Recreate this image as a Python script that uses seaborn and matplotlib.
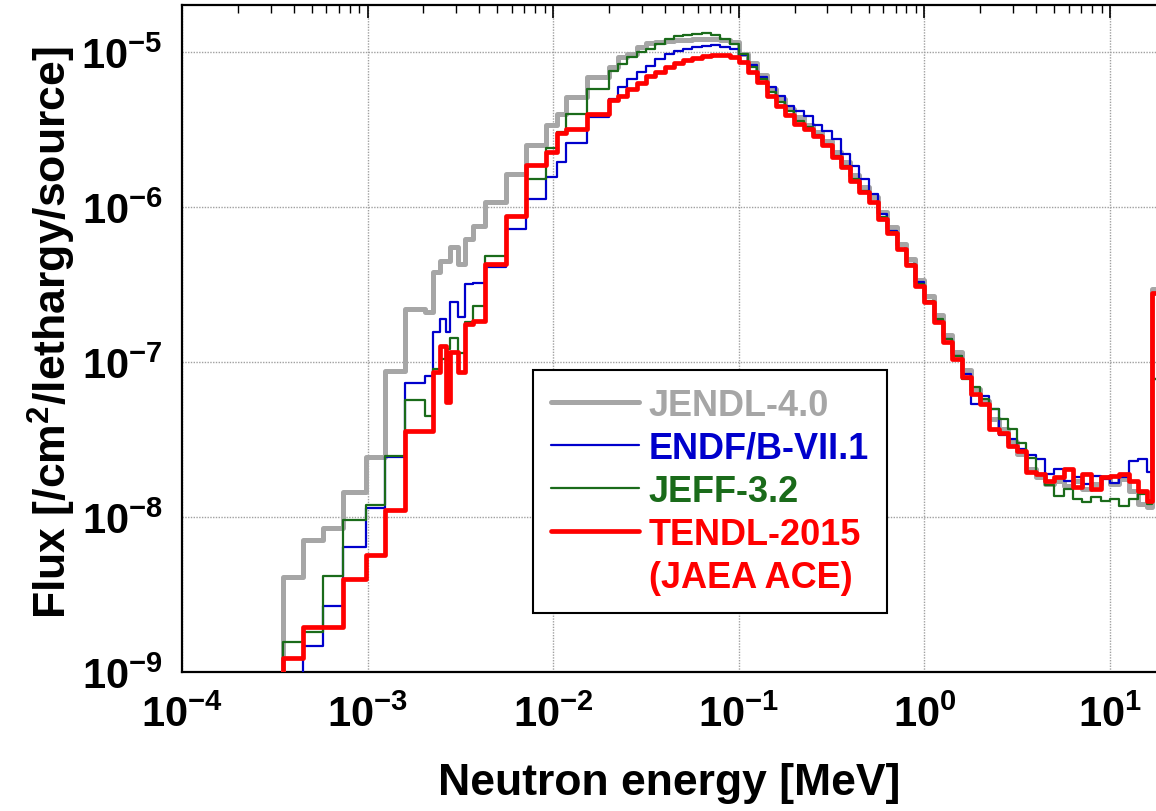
import numpy as np
import pandas as pd
import matplotlib
matplotlib.use("Agg")
import matplotlib.pyplot as plt
from matplotlib.lines import Line2D
from matplotlib import font_manager
import seaborn as sns

# ---------------- data ----------------
# energy group boundaries, log10(E / MeV)
log_edges = [-3.456, -3.348, -3.240, -3.133, -3.009, -2.906, -2.798, -2.691, -2.648, -2.610,
             -2.578, -2.556, -2.513, -2.475, -2.432, -2.367, -2.254, -2.147, -2.039, -1.980,
             -1.931, -1.818,
             -1.70, -1.65, -1.60, -1.55, -1.50, -1.45, -1.40, -1.35, -1.30, -1.25,
             -1.20, -1.15, -1.10, -1.05, -1.00, -0.95, -0.90, -0.85, -0.80, -0.75,
             -0.70, -0.65, -0.60, -0.55, -0.50, -0.45, -0.40, -0.35, -0.30, -0.25,
             -0.20, -0.15, -0.10, -0.05, 0.00, 0.05, 0.10, 0.15, 0.20, 0.25,
             0.30, 0.35, 0.40, 0.45, 0.50, 0.55, 0.60, 0.65, 0.70, 0.75,
             0.80, 0.85, 0.90, 0.95, 1.00, 1.05, 1.10, 1.15, 1.20,
             1.225, 1.30]
# lower end of the energy axis (log10 MeV): no flux tallied below the first group
log_axis_min = -4.0

flux_jendl = [4.1e-9, 7.1e-9, 8.5e-9, 1.45e-8, 2.44e-8, 8.7e-8, 2.2e-7, 2.1e-7, 3.8e-7, 4.5e-7,
              4.5e-7, 5.5e-7, 4.3e-7, 6.2e-7, 7.5e-7, 1.08e-6, 1.63e-6, 2.5e-6, 3.4e-6, 4.0e-6,
              5.1e-6, 6.9e-6,
              8.0e-6, 9.3e-6, 9.7e-6, 1.08e-5, 1.14e-5, 1.16e-5, 1.18e-5, 1.19e-5, 1.19e-5, 1.21e-5,
              1.21e-5, 1.21e-5, 1.19e-5, 1.16e-5, 9.7e-6, 8.5e-6, 7.1e-6, 5.8e-6, 5.0e-6, 4.3e-6,
              3.8e-6, 3.4e-6, 3.05e-6, 2.65e-6, 2.26e-6, 1.95e-6, 1.6e-6, 1.35e-6, 1.16e-6, 9.3e-7,
              7.4e-7, 5.8e-7, 4.6e-7, 3.4e-7, 2.67e-7, 2.0e-7, 1.5e-7, 1.16e-7, 8.9e-8, 6.7e-8,
              5.6e-8, 4.3e-8, 3.7e-8, 3.05e-8, 2.55e-8, 2.04e-8, 1.8e-8, 1.63e-8, 1.7e-8, 1.58e-8,
              1.7e-8, 1.52e-8, 1.63e-8, 1.8e-8, 1.63e-8, 1.76e-8, 1.47e-8, 1.22e-8, 1.16e-8, 2.96e-7]

flux_endf = [5e-10, 1.47e-9, 2.67e-9, 6.4e-9, 1.14e-8, 2.44e-8, 7.3e-8, 8.1e-8, 1.56e-7, 1.89e-7,
             1.56e-7, 2.44e-7, 1.95e-7, 3.2e-7, 3.25e-7, 4.1e-7, 7.2e-7, 1.13e-6, 1.56e-6, 1.95e-6,
             2.6e-6, 3.8e-6,
             5.0e-6, 5.95e-6, 6.7e-6, 7.4e-6, 8.1e-6, 9.0e-6, 9.7e-6, 1.01e-5, 1.045e-5, 1.08e-5,
             1.09e-5, 1.11e-5, 1.08e-5, 1.045e-5, 9.6e-6, 8.25e-6, 6.9e-6, 5.95e-6, 5.2e-6, 4.5e-6,
             4.17e-6, 3.87e-6, 3.4e-6, 3.1e-6, 2.75e-6, 2.2e-6, 1.84e-6, 1.52e-6, 1.21e-6, 9.0e-7,
             7.0e-7, 5.35e-7, 4.3e-7, 3.3e-7, 2.44e-7, 1.83e-7, 1.41e-7, 1.09e-7, 8.35e-8, 5.35e-8,
             6.0e-8, 5.0e-8, 3.4e-8, 3.2e-8, 2.75e-8, 2.5e-8, 2.37e-8, 1.9e-8, 2.04e-8, 1.7e-8,
             1.8e-8, 1.63e-8, 1.85e-8, 1.76e-8, 1.66e-8, 1.8e-8, 2.3e-8, 2.37e-8, 1.95e-8, 7.8e-8]

flux_jeff = [1.56e-9, 1.81e-9, 4.16e-9, 9.6e-9, 1.19e-8, 2.48e-8, 5.7e-8, 4.5e-8, 9.0e-8, 1.05e-7,
             1.21e-7, 1.42e-7, 1.15e-7, 1.8e-7, 2.3e-7, 4.8e-7, 8.75e-7, 1.52e-6, 2.4e-6, 3.05e-6,
             4.0e-6, 5.8e-6,
             7.5e-6, 8.4e-6, 9.3e-6, 1.0e-5, 1.045e-5, 1.13e-5, 1.21e-5, 1.27e-5, 1.29e-5, 1.31e-5,
             1.33e-5, 1.29e-5, 1.21e-5, 1.13e-5, 9.7e-6, 8.0e-6, 6.7e-6, 5.5e-6, 4.75e-6, 4.17e-6,
             3.6e-6, 3.3e-6, 2.9e-6, 2.5e-6, 2.13e-6, 1.84e-6, 1.52e-6, 1.27e-6, 1.08e-6, 8.6e-7,
             6.9e-7, 5.35e-7, 4.3e-7, 3.2e-7, 2.48e-7, 1.89e-7, 1.41e-7, 1.09e-7, 7.8e-8, 6.9e-8,
             5.8e-8, 5.0e-8, 4.3e-8, 3.7e-8, 3.0e-8, 2.4e-8, 1.9e-8, 1.6e-8, 1.37e-8, 1.52e-8,
             1.31e-8, 1.25e-8, 1.35e-8, 1.27e-8, 1.31e-8, 1.18e-8, 1.31e-8, 1.4e-8, 1.22e-8, 7.8e-8]

flux_tendl = [1.23e-9, 1.95e-9, 1.95e-9, 3.98e-9, 5.7e-9, 1.11e-8, 3.6e-8, 3.6e-8, 8.6e-8, 1.27e-7,
              5.5e-8, 1.16e-7, 8.6e-8, 1.75e-7, 1.83e-7, 4.3e-7, 8.75e-7, 1.87e-6, 2.26e-6, 3.0e-6,
              3.2e-6, 4.0e-6,
              4.9e-6, 5.2e-6, 5.8e-6, 6.3e-6, 7.0e-6, 7.4e-6, 8.0e-6, 8.5e-6, 8.85e-6, 9.15e-6,
              9.4e-6, 9.6e-6, 9.6e-6, 9.3e-6, 8.6e-6, 7.4e-6, 6.4e-6, 5.2e-6, 4.5e-6, 3.9e-6,
              3.45e-6, 3.2e-6, 2.85e-6, 2.5e-6, 2.1e-6, 1.81e-6, 1.47e-6, 1.25e-6, 1.08e-6, 8.4e-7,
              6.8e-7, 5.35e-7, 4.2e-7, 3.1e-7, 2.44e-7, 1.81e-7, 1.35e-7, 1.045e-7, 8.0e-8, 6.2e-8,
              5.35e-8, 3.7e-8, 3.5e-8, 2.87e-8, 2.65e-8, 1.95e-8, 1.9e-8, 1.7e-8, 1.8e-8, 2.04e-8,
              1.55e-8, 1.9e-8, 1.52e-8, 1.8e-8, 1.85e-8, 1.9e-8, 1.7e-8, 1.47e-8, 1.27e-8, 2.8e-7]

libraries = ["JENDL-4.0", "ENDF/B-VII.1", "JEFF-3.2", "TENDL-2015 (JAEA ACE)"]
legend_labels = ["JENDL-4.0", "ENDF/B-VII.1", "JEFF-3.2", "TENDL-2015", "(JAEA ACE)"]
x_ticks = [1e-4, 1e-3, 1e-2, 1e-1, 1e0, 1e1]
x_tick_labels = [r"$\mathbf{10^{-4}}$", r"$\mathbf{10^{-3}}$", r"$\mathbf{10^{-2}}$",
                 r"$\mathbf{10^{-1}}$", r"$\mathbf{10^{0}}$", r"$\mathbf{10^{1}}$"]
y_ticks = [1e-9, 1e-8, 1e-7, 1e-6, 1e-5]
y_tick_labels = [r"$\mathbf{10^{-9}}$", r"$\mathbf{10^{-8}}$", r"$\mathbf{10^{-7}}$",
                 r"$\mathbf{10^{-6}}$", r"$\mathbf{10^{-5}}$"]

# ---------------- style ----------------
colors = ["#a6a6a6", "#0000cc", "#1a6b1a", "#ff0000"]
widths = [3.6, 1.6, 1.6, 3.4]


def has_font(name):
    try:
        font_manager.findfont(font_manager.FontProperties(family=name),
                              fallback_to_default=False)
        return True
    except Exception:
        return False


tick_family = "Liberation Sans Narrow" if has_font("Liberation Sans Narrow") else "Liberation Sans"

sns.set_theme(style="white")
plt.rcParams["font.family"] = ["Liberation Sans", "DejaVu Sans"]
plt.rcParams["mathtext.fontset"] = "custom"
plt.rcParams["mathtext.rm"] = "Liberation Sans:bold"
plt.rcParams["mathtext.bf"] = tick_family + ":bold"
plt.rcParams["mathtext.it"] = "Liberation Sans:bold:italic"

# histogram bins: an empty bin from the axis minimum, then the energy groups
bin_edges = [log_axis_min] + list(log_edges)
centers = [10 ** ((a + b) / 2) for a, b in zip(log_edges[:-1], log_edges[1:])]
series = [flux_jendl, flux_endf, flux_jeff, flux_tendl]
df = pd.concat([pd.DataFrame({"library": lib, "energy": centers, "flux": vals})
                for lib, vals in zip(libraries, series)], ignore_index=True)

fig = plt.figure(figsize=(11.56, 8.12), dpi=100)
ax = fig.add_axes([182 / 1156, 1 - 673 / 812, (1156 - 182) / 1156, (673 - 6) / 812])
ax.set_xscale("log")
ax.set_yscale("log")

for i, (lib, c, lw) in enumerate(zip(libraries, colors, widths)):
    sub = df[df["library"] == lib]
    sns.histplot(data=sub, x="energy", weights="flux", bins=bin_edges, element="step",
                 fill=False, color=c, linewidth=lw, ax=ax, zorder=3 + i)

ax.set_xlim(1e-4, 10 ** 1.2478)
ax.set_ylim(1e-9, 10 ** -4.697)

ax.set_xticks(x_ticks)
ax.set_xticklabels(x_tick_labels)
ax.set_yticks(y_ticks)
ax.set_yticklabels(y_tick_labels)
ax.xaxis.set_minor_locator(matplotlib.ticker.LogLocator(base=10, subs=np.arange(2, 10), numticks=20))
ax.yaxis.set_minor_locator(matplotlib.ticker.LogLocator(base=10, subs=np.arange(2, 10), numticks=20))
ax.xaxis.set_minor_formatter(matplotlib.ticker.NullFormatter())
ax.yaxis.set_minor_formatter(matplotlib.ticker.NullFormatter())

ax.tick_params(axis="both", which="both", direction="in", top=True, right=False, colors="black")
ax.tick_params(axis="both", which="major", length=9, width=1.2, labelsize=30)
ax.tick_params(axis="both", which="minor", length=6, width=1.0)
ax.tick_params(axis="x", which="major", pad=16)
ax.tick_params(axis="y", which="major", pad=14)

ax.grid(True, which="major", color="#a0a0a0", linestyle=(0, (1, 1)), linewidth=1.0, zorder=0)
ax.set_axisbelow(True)

for s in ["left", "bottom", "top"]:
    ax.spines[s].set_visible(True)
    ax.spines[s].set_color("black")
    ax.spines[s].set_linewidth(1.6)
ax.spines["right"].set_visible(False)

ax.set_xlabel("Neutron energy [MeV]", fontsize=32, fontweight="bold", color="black")
ax.xaxis.label.set_va("center")
ax.xaxis.set_label_coords(0.5, -0.165)
ax.set_ylabel(r"Flux [/cm$^{\mathrm{2}}$/lethargy/source]", fontsize=32,
              fontweight="bold", color="black")
ax.yaxis.label.set_va("center")
ax.yaxis.set_label_coords(-0.1335, 0.51)

handles = [Line2D([], [], color=c, lw=lw) for c, lw in zip(colors, widths)]
handles.append(Line2D([], [], color="none"))
label_colors = colors + [colors[3]]
leg = ax.legend(handles, legend_labels, loc="upper left", bbox_to_anchor=(0.360, 0.453),
                bbox_transform=ax.transAxes, borderaxespad=0, frameon=True, fancybox=False,
                edgecolor="black", framealpha=1,
                prop=dict(family="Liberation Sans", weight="bold", size=26),
                labelcolor=label_colors, handlelength=2.44, handletextpad=0.28,
                borderpad=0.5, labelspacing=0.22)
leg.get_frame().set_linewidth(1.5)
leg.set_zorder(10)

fig.savefig("out.png", dpi=100)
